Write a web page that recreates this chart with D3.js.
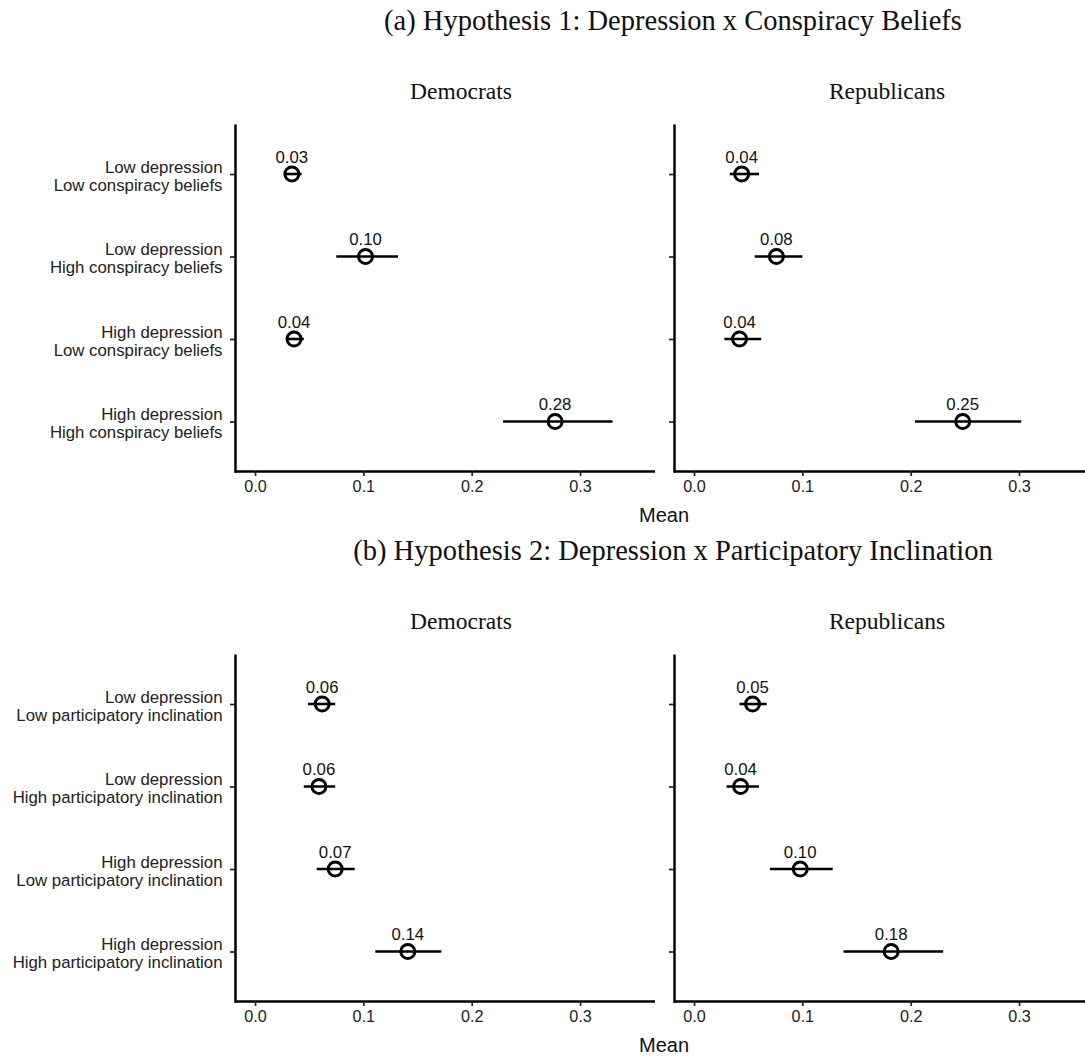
<!DOCTYPE html>
<html>
<head>
<meta charset="utf-8">
<script src="https://cdn.jsdelivr.net/npm/d3@7"></script>
<style>
  html, body { margin: 0; padding: 0; background: #fff; }
  svg { display: block; }
</style>
</head>
<body>
<svg id="chart" width="1085" height="1056"></svg>
<script>
// ---------------- data ----------------
const sectionTitles = [
  "(a) Hypothesis 1: Depression x Conspiracy Beliefs",
  "(b) Hypothesis 2: Depression x Participatory Inclination"
];
const partyNames = ["Democrats", "Republicans"];
const xTicks = [0.0, 0.1, 0.2, 0.3];
const xAxisTitle = "Mean";

const catsA = [
  ["Low depression", "Low conspiracy beliefs"],
  ["Low depression", "High conspiracy beliefs"],
  ["High depression", "Low conspiracy beliefs"],
  ["High depression", "High conspiracy beliefs"]
];
const catsB = [
  ["Low depression", "Low participatory inclination"],
  ["Low depression", "High participatory inclination"],
  ["High depression", "Low participatory inclination"],
  ["High depression", "High participatory inclination"]
];

// (a) Democrats
const aDemMean = [0.034, 0.102, 0.036, 0.277];
const aDemLow  = [0.028, 0.075, 0.029, 0.229];
const aDemHigh = [0.043, 0.132, 0.045, 0.330];
// (a) Republicans
const aRepMean = [0.044, 0.076, 0.042, 0.248];
const aRepLow  = [0.033, 0.056, 0.028, 0.204];
const aRepHigh = [0.060, 0.100, 0.062, 0.302];
// (b) Democrats
const bDemMean = [0.062, 0.059, 0.074, 0.141];
const bDemLow  = [0.049, 0.045, 0.057, 0.111];
const bDemHigh = [0.074, 0.074, 0.092, 0.172];
// (b) Republicans
const bRepMean = [0.054, 0.043, 0.098, 0.182];
const bRepLow  = [0.042, 0.030, 0.070, 0.138];
const bRepHigh = [0.067, 0.060, 0.128, 0.230];

// ---------------- layout ----------------
const svg = d3.select("#chart");
const serif = "'Liberation Serif','Times New Roman',serif";
const sans = "'Liberation Sans',Arial,Helvetica,sans-serif";

const panelW = 420;
const panelLefts = [235, 674];
const xDomain = [-0.0185, 0.3692];

const sections = [
  { title: sectionTitles[0], cats: catsA, top: 124.5, bottom: 471,
    titleY: 30, stripY: 99, meanY: 522,
    panels: [
      { mean: aDemMean, low: aDemLow, high: aDemHigh },
      { mean: aRepMean, low: aRepLow, high: aRepHigh }
    ] },
  { title: sectionTitles[1], cats: catsB, top: 654.5, bottom: 1001,
    titleY: 560, stripY: 629, meanY: 1052,
    panels: [
      { mean: bDemMean, low: bDemLow, high: bDemHigh },
      { mean: bRepMean, low: bRepLow, high: bRepHigh }
    ] }
];
const stripCenters = [461, 887];

sections.forEach(sec => {
  svg.append("text")
    .attr("x", 673).attr("y", sec.titleY)
    .attr("text-anchor", "middle")
    .attr("font-family", serif).attr("font-size", 28.5)
    .attr("fill", "#111")
    .text(sec.title);

  const y = d3.scalePoint()
    .domain(d3.range(sec.cats.length))
    .range([sec.top, sec.bottom])
    .padding(0.6);

  sec.panels.forEach((p, pi) => {
    const left = panelLefts[pi];
    const x = d3.scaleLinear().domain(xDomain).range([left, left + panelW]);

    // strip label
    svg.append("text")
      .attr("x", stripCenters[pi]).attr("y", sec.stripY)
      .attr("text-anchor", "middle")
      .attr("font-family", serif).attr("font-size", 23.5)
      .attr("fill", "#111")
      .text(partyNames[pi]);

    // x axis
    const gx = svg.append("g")
      .attr("transform", `translate(0,${sec.bottom})`)
      .call(d3.axisBottom(x).tickValues(xTicks).tickFormat(d3.format(".1f"))
        .tickSize(5).tickSizeOuter(0).tickPadding(4));
    gx.select(".domain").attr("stroke", "#000").attr("stroke-width", 2.5)
      .attr("d", `M${left},0.5H${left + panelW}`);
    gx.selectAll(".tick line").attr("stroke", "#222").attr("stroke-width", 1.7);
    gx.selectAll(".tick text").attr("font-family", sans).attr("font-size", 16.2)
      .attr("fill", "#222");

    // y axis
    const gy = svg.append("g")
      .attr("transform", `translate(${left},0)`)
      .call(d3.axisLeft(y).tickSize(5).tickSizeOuter(0).tickFormat(() => ""));
    gy.select(".domain").attr("stroke", "#000").attr("stroke-width", 2.5)
      .attr("d", `M0.5,${sec.top}V${sec.bottom + 1.75}`);
    gy.selectAll(".tick line").attr("stroke", "#222").attr("stroke-width", 1.7);
    gy.selectAll(".tick text").remove();

    if (pi === 0) {
      gy.selectAll(".tick").each(function(d) {
        const t = d3.select(this).append("text")
          .attr("text-anchor", "end")
          .attr("font-family", sans).attr("font-size", 16.8)
          .attr("fill", "#222");
        t.append("tspan").attr("x", -12.5).attr("y", -2).text(sec.cats[d][0]);
        t.append("tspan").attr("x", -12.5).attr("y", 16).text(sec.cats[d][1]);
      });
    }

    const rows = p.mean.map((m, i) => ({ i, m, lo: p.low[i], hi: p.high[i] }));
    const g = svg.append("g");
    g.selectAll("line.err").data(rows).join("line")
      .attr("class", "err")
      .attr("x1", d => x(d.lo)).attr("x2", d => x(d.hi))
      .attr("y1", d => y(d.i)).attr("y2", d => y(d.i))
      .attr("stroke", "#000").attr("stroke-width", 2.6);
    g.selectAll("circle").data(rows).join("circle")
      .attr("cx", d => x(d.m)).attr("cy", d => y(d.i))
      .attr("r", 7)
      .attr("fill", "none").attr("stroke", "#000").attr("stroke-width", 3);
    g.selectAll("text.lab").data(rows).join("text")
      .attr("class", "lab")
      .attr("x", d => x(d.m)).attr("y", d => y(d.i) - 11.5)
      .attr("text-anchor", "middle")
      .attr("font-family", sans).attr("font-size", 16.8)
      .attr("fill", "#111")
      .text(d => d3.format(".2f")(d.m));
  });

  svg.append("text")
    .attr("x", 664).attr("y", sec.meanY)
    .attr("text-anchor", "middle")
    .attr("font-family", sans).attr("font-size", 20)
    .attr("fill", "#111")
    .text(xAxisTitle);
});
</script>
</body>
</html>
